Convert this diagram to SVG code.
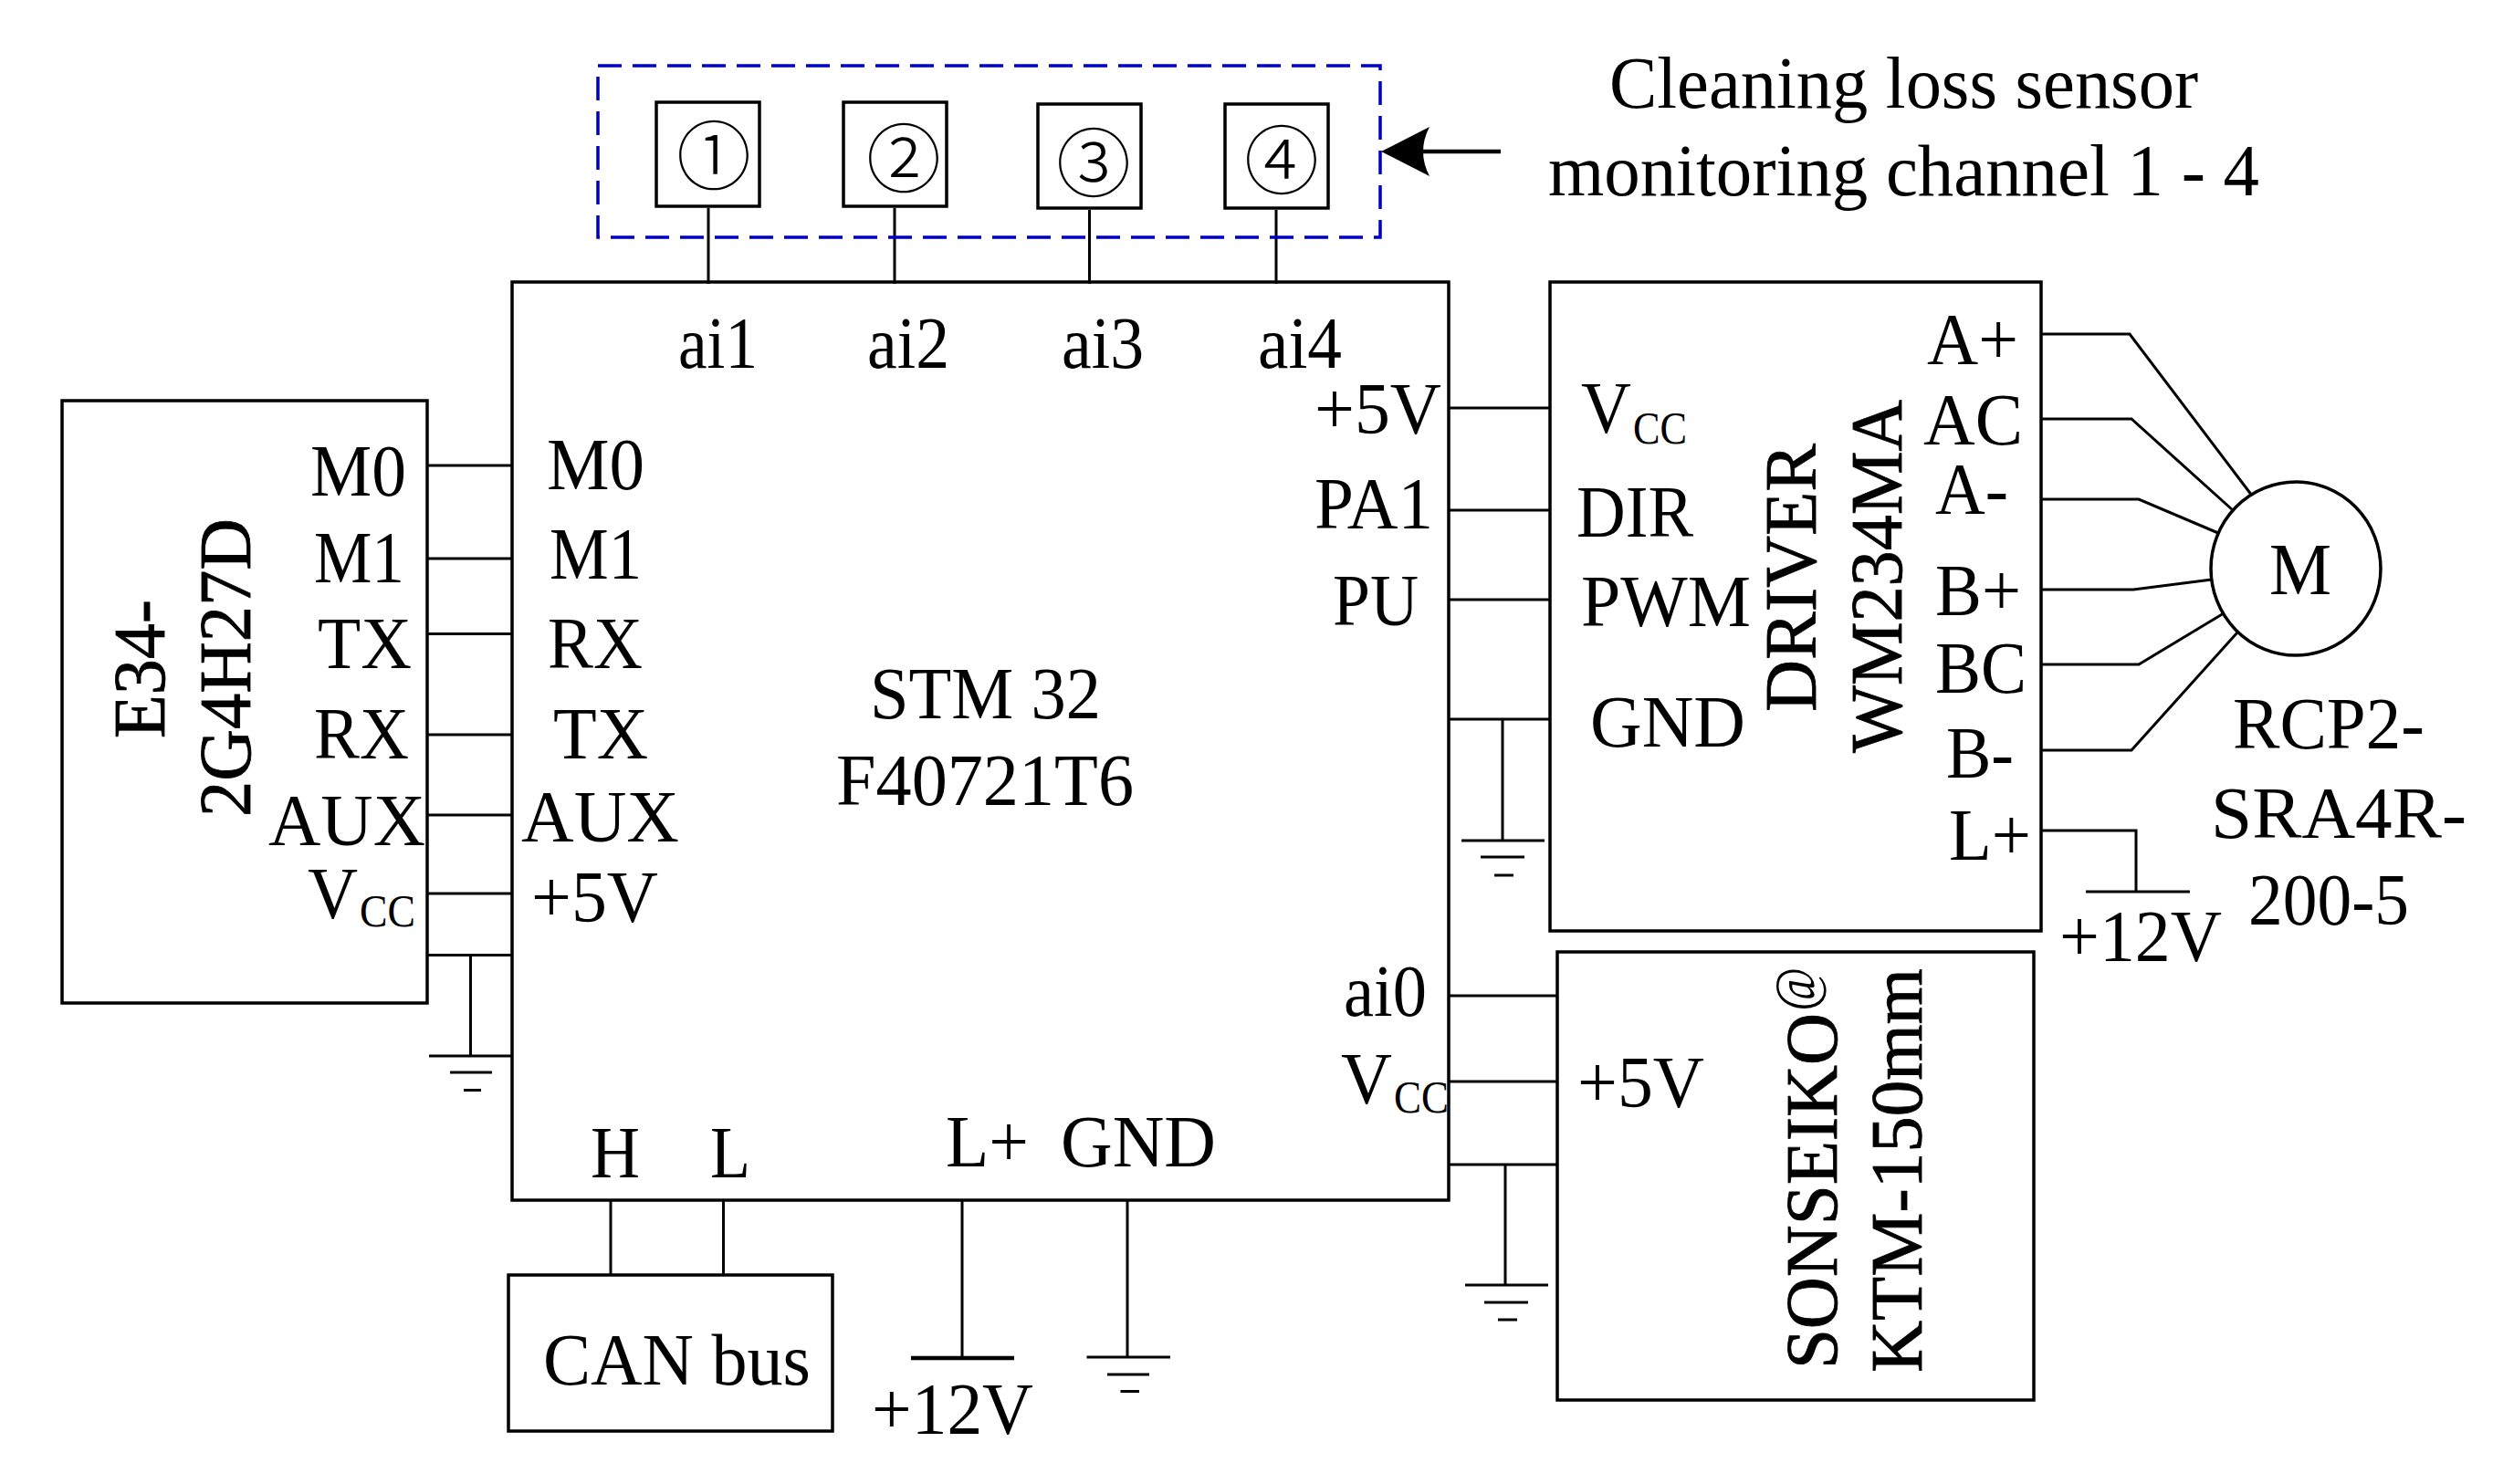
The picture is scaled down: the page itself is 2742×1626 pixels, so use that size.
<svg xmlns="http://www.w3.org/2000/svg" width="2742" height="1626" viewBox="0 0 2742 1626">
<style>
text{font-family:"Liberation Serif","Times New Roman",serif;font-size:80px;fill:#000}
.s{font-size:50px}
.r{stroke:#000;stroke-width:.8}
.c{font-family:"Noto Sans CJK SC","DejaVu Sans",sans-serif;font-size:82px;font-weight:300;text-anchor:middle}
.b{fill:none;stroke:#000;stroke-width:3.5}
.w{fill:none;stroke:#000;stroke-width:3}
.h{stroke:#000;stroke-width:4.5;fill:none}
</style>
<rect width="2742" height="1626" fill="#fff"/>
<g id="connectors">
<path class="w" d="M776 228V311M980 228V311M1193.500 230V311M1398 230V311"/>
<path class="w" d="M468 510H561M468 612H561M468 694.500H561M468 805H561M468 893H561M468 979H561M468 1046.500H561"/>
<path class="w" d="M515.500 1046.500V1157M470 1157H561M493 1175H539M508 1194.500H527"/>
<path class="w" d="M1587 447H1698M1587 559H1698M1587 657H1698M1587 788H1698"/>
<path class="w" d="M1646 788V921M1601 921H1692M1622 939H1670M1637 959H1658"/>
<path class="w" d="M2236 366H2333L2467 543M2236 459H2335L2446 559M2236 547H2343L2430 584M2236 646H2337L2423 635M2236 728H2343L2436 672M2236 822H2335L2451 693"/>
<path class="w" d="M2236 910H2340V977M2285 977H2399"/>
<path class="w" d="M1587 1091H1706M1587 1185H1706M1587 1276H1706"/>
<path class="w" d="M1649 1276V1408M1605 1408H1696M1626 1427H1674M1641 1446H1662"/>
<path class="w" d="M669 1315V1397M792.500 1315V1397"/>
<path class="w" d="M1054 1315V1488"/><path class="h" d="M998 1488H1111"/>
<path class="w" d="M1235 1315V1487M1190.500 1487H1282M1213 1506H1259M1227.500 1524.500H1248"/>
<path class="h" d="M1644 166H1550"/>
<path d="M1513 166L1566 139Q1552 166 1566 193Z" fill="#000"/>
</g>
<g id="sensor-channels">
<rect x="655" y="72" width="857" height="188" fill="none" stroke="#0000c0" stroke-width="3.500" stroke-dasharray="26 12"/>
<text x="1763" y="118" textLength="645" lengthAdjust="spacingAndGlyphs">Cleaning loss sensor</text>
<text x="1696" y="214" textLength="779" lengthAdjust="spacingAndGlyphs">monitoring channel 1 - 4</text>
</g>
<g id="channel-1"><rect class="b" x="719" y="112" width="113" height="114"/><text class="c" x="782" y="201">①</text></g>
<g id="channel-2"><rect class="b" x="924" y="112" width="113" height="114"/><text class="c" x="990" y="204">②</text></g>
<g id="channel-3"><rect class="b" x="1137" y="114" width="113" height="114"/><text class="c" x="1198" y="209">③</text></g>
<g id="channel-4"><rect class="b" x="1342" y="114" width="113" height="114"/><text class="c" x="1404" y="206">④</text></g>
<g id="stm32">
<rect class="b" x="561" y="309" width="1026" height="1006"/>
<text x="743" y="403" textLength="87" lengthAdjust="spacingAndGlyphs">ai1</text>
<text x="950" y="403" textLength="90" lengthAdjust="spacingAndGlyphs">ai2</text>
<text x="1163" y="403" textLength="90" lengthAdjust="spacingAndGlyphs">ai3</text>
<text x="1378" y="403" textLength="92" lengthAdjust="spacingAndGlyphs">ai4</text>
<text x="599" y="536" textLength="107" lengthAdjust="spacingAndGlyphs">M0</text>
<text x="602" y="634" textLength="101" lengthAdjust="spacingAndGlyphs">M1</text>
<text x="600" y="732" textLength="104" lengthAdjust="spacingAndGlyphs">RX</text>
<text x="606" y="831" textLength="104" lengthAdjust="spacingAndGlyphs">TX</text>
<text x="571" y="922" textLength="173" lengthAdjust="spacingAndGlyphs">AUX</text>
<text x="582" y="1010" textLength="139" lengthAdjust="spacingAndGlyphs">+5V</text>
<text x="1440" y="475" textLength="139" lengthAdjust="spacingAndGlyphs">+5V</text>
<text x="1440" y="579" textLength="130" lengthAdjust="spacingAndGlyphs">PA1</text>
<text x="1460" y="685" textLength="94" lengthAdjust="spacingAndGlyphs">PU</text>
<text x="953" y="787" textLength="253" lengthAdjust="spacingAndGlyphs">STM 32</text>
<text x="916" y="882" textLength="326" lengthAdjust="spacingAndGlyphs">F40721T6</text>
<text x="1472" y="1113" textLength="91" lengthAdjust="spacingAndGlyphs">ai0</text>
<text x="1469" y="1209" textLength="56" lengthAdjust="spacingAndGlyphs">V</text>
<text class="s" x="1527" y="1219" textLength="60" lengthAdjust="spacingAndGlyphs">CC</text>
<text x="647" y="1290" textLength="54" lengthAdjust="spacingAndGlyphs">H</text>
<text x="778" y="1290" textLength="44" lengthAdjust="spacingAndGlyphs">L</text>
<text x="1036" y="1278" textLength="91" lengthAdjust="spacingAndGlyphs">L+</text>
<text x="1162" y="1278" textLength="170" lengthAdjust="spacingAndGlyphs">GND</text>
</g>
<g id="e34">
<rect class="b" x="68" y="439" width="400" height="660"/>
<text x="340" y="543" textLength="105" lengthAdjust="spacingAndGlyphs">M0</text>
<text x="344" y="638" textLength="99" lengthAdjust="spacingAndGlyphs">M1</text>
<text x="348" y="732" textLength="103" lengthAdjust="spacingAndGlyphs">TX</text>
<text x="344" y="831" textLength="104" lengthAdjust="spacingAndGlyphs">RX</text>
<text x="294" y="926" textLength="172" lengthAdjust="spacingAndGlyphs">AUX</text>
<text x="337" y="1006" textLength="55" lengthAdjust="spacingAndGlyphs">V</text>
<text class="s" x="394" y="1015" textLength="61" lengthAdjust="spacingAndGlyphs">CC</text>
<text class="r" transform="translate(180 809) rotate(-90)" textLength="152" lengthAdjust="spacingAndGlyphs">E34-</text>
<text class="r" transform="translate(274 895) rotate(-90)" textLength="327" lengthAdjust="spacingAndGlyphs">2G4H27D</text>
</g>
<g id="driver">
<rect class="b" x="1698" y="309" width="538" height="711"/>
<text x="1732" y="474" textLength="55" lengthAdjust="spacingAndGlyphs">V</text>
<text class="s" x="1789" y="486" textLength="59" lengthAdjust="spacingAndGlyphs">CC</text>
<text x="1727" y="588" textLength="128" lengthAdjust="spacingAndGlyphs">DIR</text>
<text x="1732" y="686" textLength="186" lengthAdjust="spacingAndGlyphs">PWM</text>
<text x="1742" y="818" textLength="170" lengthAdjust="spacingAndGlyphs">GND</text>
<text class="r" transform="translate(1989 780) rotate(-90)" textLength="294" lengthAdjust="spacingAndGlyphs">DRIVER</text>
<text class="r" transform="translate(2083 825) rotate(-90)" textLength="387" lengthAdjust="spacingAndGlyphs">WM234MA</text>
<text x="2111" y="399" textLength="100" lengthAdjust="spacingAndGlyphs">A+</text>
<text x="2107" y="487" textLength="109" lengthAdjust="spacingAndGlyphs">AC</text>
<text x="2120" y="563" textLength="80" lengthAdjust="spacingAndGlyphs">A-</text>
<text x="2120" y="674" textLength="94" lengthAdjust="spacingAndGlyphs">B+</text>
<text x="2120" y="759" textLength="100" lengthAdjust="spacingAndGlyphs">BC</text>
<text x="2132" y="852" textLength="74" lengthAdjust="spacingAndGlyphs">B-</text>
<text x="2135" y="942" textLength="90" lengthAdjust="spacingAndGlyphs">L+</text>
<text x="2256" y="1053" textLength="178" lengthAdjust="spacingAndGlyphs">+12V</text>
</g>
<g id="motor">
<ellipse class="b" cx="2515" cy="623" rx="93" ry="95" fill="#fff"/>
<text x="2486" y="651" textLength="68" lengthAdjust="spacingAndGlyphs">M</text>
<text x="2446" y="820" textLength="210" lengthAdjust="spacingAndGlyphs">RCP2-</text>
<text x="2422" y="918" textLength="280" lengthAdjust="spacingAndGlyphs">SRA4R-</text>
<text x="2463" y="1013" textLength="176" lengthAdjust="spacingAndGlyphs">200-5</text>
</g>
<g id="sonseiko">
<rect class="b" x="1706" y="1043" width="522" height="491"/>
<text x="1728" y="1213" textLength="139" lengthAdjust="spacingAndGlyphs">+5V</text>
<text class="r" transform="translate(2012 1500) rotate(-90)" textLength="390" lengthAdjust="spacingAndGlyphs">SONSEIKO</text>
<text font-size="66" style="font-size:64px" font-style="italic" transform="translate(1988 1108) rotate(-90)" textLength="48" lengthAdjust="spacingAndGlyphs">@</text>
<text class="r" transform="translate(2105 1504) rotate(-90)" textLength="443" lengthAdjust="spacingAndGlyphs">KTM-150mm</text>
</g>
<g id="can-bus">
<rect class="b" x="557" y="1397" width="355" height="171"/>
<text x="595" y="1517" textLength="293" lengthAdjust="spacingAndGlyphs">CAN bus</text>
</g>
<g id="supply-12v">
<text x="955" y="1571" textLength="177" lengthAdjust="spacingAndGlyphs">+12V</text>
</g>
</svg>
